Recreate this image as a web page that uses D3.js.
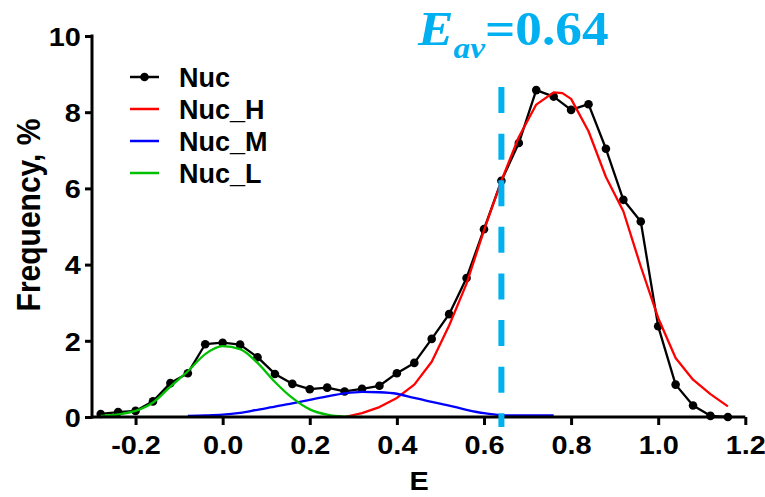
<!DOCTYPE html>
<html>
<head>
<meta charset="utf-8">
<script src="https://cdn.jsdelivr.net/npm/d3@7"></script>
<style>
  body { margin: 0; background: #fff; }
  text { font-family: "Liberation Sans", Arial, sans-serif; font-weight: bold; }
</style>
</head>
<body>
<div id="chart"></div>
<script>
// FRET efficiency histogram (Nuc) with three gaussian components

var eBins = [-0.28, -0.24, -0.20, -0.16, -0.12, -0.08, -0.04, 0.00, 0.04, 0.08, 0.12, 0.16,
             0.20, 0.24, 0.28, 0.32, 0.36, 0.40, 0.44, 0.48, 0.52, 0.56, 0.60, 0.64,
             0.68, 0.72, 0.76, 0.80, 0.84, 0.88, 0.92, 0.96, 1.00, 1.04, 1.08, 1.12, 1.16];
var nuc = [0.08, 0.13, 0.16, 0.41, 0.89, 1.15, 1.91, 1.95, 1.90, 1.57, 1.13, 0.87,
           0.73, 0.77, 0.67, 0.74, 0.82, 1.15, 1.42, 2.05, 2.70, 3.65, 4.93, 6.20,
           7.19, 8.58, 8.41, 8.06, 8.21, 7.04, 5.70, 5.13, 2.38, 0.85, 0.30, 0.03, 0.00];

var hE = [0.28, 0.32, 0.36, 0.40, 0.44, 0.48, 0.52, 0.56, 0.60, 0.64, 0.68, 0.72,
          0.76, 0.78, 0.80, 0.84, 0.88, 0.92, 0.96, 1.00, 1.04, 1.08, 1.12, 1.16];
var nucH = [0.00, 0.10, 0.26, 0.50, 0.85, 1.45, 2.40, 3.50, 4.90, 6.20, 7.35, 8.20,
            8.52, 8.50, 8.35, 7.50, 6.30, 5.40, 3.95, 2.60, 1.55, 0.98, 0.60, 0.28];

var mE = [-0.08, -0.04, 0.00, 0.04, 0.08, 0.12, 0.16, 0.20, 0.24, 0.28, 0.32, 0.36,
          0.40, 0.44, 0.48, 0.52, 0.56, 0.60, 0.64, 0.68, 0.72, 0.76];
var nucM = [0.03, 0.04, 0.06, 0.11, 0.19, 0.27, 0.36, 0.45, 0.54, 0.62, 0.66, 0.65,
            0.61, 0.50, 0.40, 0.30, 0.19, 0.10, 0.05, 0.04, 0.04, 0.04];

var lE = [-0.28, -0.24, -0.20, -0.16, -0.12, -0.08, -0.04, 0.00, 0.04, 0.08, 0.12, 0.16,
          0.20, 0.24, 0.28, 0.32];
var nucL = [0.03, 0.07, 0.16, 0.38, 0.80, 1.20, 1.65, 1.86, 1.78, 1.42, 0.92, 0.50,
            0.20, 0.06, 0.01, 0.00];

var xTicks = [-0.2, 0.0, 0.2, 0.4, 0.6, 0.8, 1.0, 1.2];
var yTicks = [0, 2, 4, 6, 8, 10];
var eav = 0.64;
var eavLine = [8.66, -0.26];

var series = [
  {name: "Nuc",   x: eBins, y: nuc,  color: "#000000", dots: true},
  {name: "Nuc_H", x: hE,    y: nucH, color: "#ff0000"},
  {name: "Nuc_M", x: mE,    y: nucM, color: "#0000ff", smooth: true},
  {name: "Nuc_L", x: lE,    y: nucL, color: "#00c000", smooth: true}
];

var width = 765, height = 497,
    stretch = 1.11;

var svg = d3.select("#chart").append("svg")
    .attr("width", width)
    .attr("height", height);

var x = d3.scaleLinear().domain([-0.3, 1.2]).range([92, 745.3]);
var y = d3.scaleLinear().domain([0, 10]).range([417, 36]);

// curves
series.forEach(function(s) {
    var pts = s.x.map(function(d, i) { return [d, s.y[i]]; });
    var line = d3.line()
        .x(function(d) { return x(d[0]); })
        .y(function(d) { return y(d[1]); })
        .curve(s.smooth ? d3.curveMonotoneX : d3.curveLinear);
    svg.append("path")
        .datum(pts)
        .attr("fill", "none")
        .attr("stroke", s.color)
        .attr("stroke-width", 2.3)
        .attr("stroke-linejoin", "round")
        .attr("d", line);
    if (s.dots) {
        svg.selectAll(".dot").data(pts).enter().append("circle")
            .attr("class", "dot")
            .attr("cx", function(d) { return x(d[0]); })
            .attr("cy", function(d) { return y(d[1]); })
            .attr("r", 4.3)
            .attr("fill", s.color);
    }
});

// axes
var xMinor = d3.range(-0.3, 1.201, 0.05).filter(function(v) {
    return Math.abs(Math.round(v * 5) - v * 5) > 1e-6;
});
var yMinor = [1, 3, 5, 7, 9];

var gx = svg.append("g").attr("transform", "translate(0," + y(0) + ")");
gx.call(d3.axisBottom(x).tickValues(xMinor).tickSize(5).tickFormat(""));
gx.call(d3.axisBottom(x).tickValues(xTicks).tickSize(8).tickPadding(11)
        .tickFormat(d3.format(".1f")));
gx.selectAll("text").attr("font-size", 26).attr("fill", "#000")
    .attr("transform", "scale(" + stretch + ",1)")
    .text(function(d) { return d3.format(".1f")(d).replace("−", "-"); });

var gy = svg.append("g").attr("transform", "translate(" + x(-0.3) + ",0)");
gy.call(d3.axisLeft(y).tickValues(yMinor).tickSize(4).tickFormat(""));
gy.call(d3.axisLeft(y).tickValues(yTicks).tickSize(7).tickPadding(3));
gy.selectAll("text").attr("font-size", 26).attr("fill", "#000")
    .attr("dy", "0.36em")
    .attr("transform", "scale(" + stretch + ",1)");

svg.selectAll(".tick line")
    .attr("stroke", "#000")
    .attr("stroke-width", 3);
// plain axis lines without outer ticks
gx.selectAll(".domain").remove();
gy.selectAll(".domain").remove();
svg.append("line")
    .attr("x1", x(-0.3)).attr("x2", x(1.2))
    .attr("y1", y(0)).attr("y2", y(0))
    .attr("stroke", "#000").attr("stroke-width", 3);
svg.append("line")
    .attr("x1", x(-0.3)).attr("x2", x(-0.3))
    .attr("y1", y(10) - 1.5).attr("y2", y(0) + 1.5)
    .attr("stroke", "#000").attr("stroke-width", 3);

// axis titles
svg.append("text")
    .attr("transform", "translate(40,215) scale(" + stretch + ",1) rotate(-90)")
    .attr("text-anchor", "middle")
    .attr("font-size", 30)
    .text("Frequency, %");

svg.append("text")
    .attr("transform", "translate(419,490) scale(" + stretch + ",1)")
    .attr("text-anchor", "middle")
    .attr("font-size", 26)
    .text("E");

// legend
var legend = svg.append("g").attr("transform", "translate(130,77)");
var rows = legend.selectAll("g").data(series).enter().append("g")
    .attr("transform", function(d, i) { return "translate(0," + (i * 32) + ")"; });
rows.append("line")
    .attr("x1", 0).attr("x2", 29)
    .attr("stroke", function(d) { return d.color; })
    .attr("stroke-width", 2.5);
rows.filter(function(d) { return d.dots; }).append("circle")
    .attr("cx", 14.5).attr("r", 4.3)
    .attr("fill", function(d) { return d.color; });
rows.append("text")
    .attr("x", 49).attr("y", 10)
    .attr("font-size", 27)
    .text(function(d) { return d.name; });

// average efficiency marker
svg.append("line")
    .attr("x1", x(eav)).attr("x2", x(eav))
    .attr("y1", y(eavLine[0])).attr("y2", y(eavLine[1]))
    .attr("stroke", "#00b0f0")
    .attr("stroke-width", 6)
    .attr("stroke-dasharray", "26,20.6");

var title = svg.append("text")
    .attr("transform", "translate(418,45) scale(" + stretch + ",1)")
    .attr("fill", "#00b0f0")
    .style("font-family", "'Liberation Serif', 'Times New Roman', serif")
    .attr("font-size", 48);
title.append("tspan").attr("font-style", "italic").text("E");
title.append("tspan").attr("font-style", "italic").attr("font-size", 30)
    .attr("dy", 13).text("av");
title.append("tspan").attr("dy", -13).text("=0.64");
</script>
</body>
</html>
